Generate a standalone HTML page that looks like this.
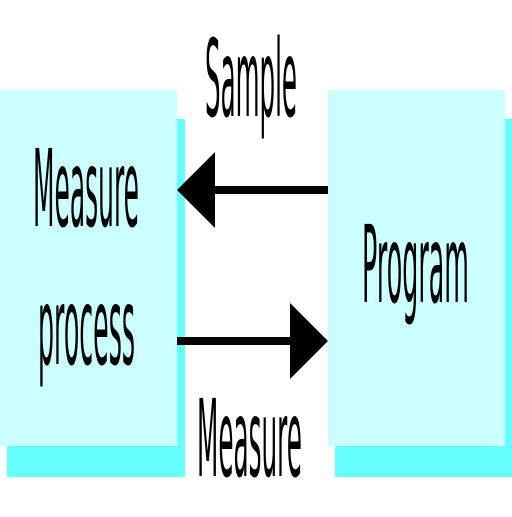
<!DOCTYPE html>
<html><head><style>html,body{margin:0;padding:0;background:#fff}</style></head><body>
<svg width="512" height="512" viewBox="0 0 512 512" xmlns="http://www.w3.org/2000/svg">
<rect x="7" y="119" width="178" height="358" fill="#66ffff"/>
<rect x="0" y="90" width="177" height="356" fill="#ccffff"/>
<rect x="335" y="119" width="177" height="358" fill="#66ffff"/>
<rect x="328" y="90" width="177" height="356" fill="#ccffff"/>
<g font-family="DejaVu Sans, Liberation Sans, sans-serif" font-size="107" fill="#000">
<text x="205" y="116" textLength="92" lengthAdjust="spacingAndGlyphs">Sample</text>
<text x="33" y="226" textLength="106" lengthAdjust="spacingAndGlyphs">Measure</text>
<text x="38" y="364" textLength="97" lengthAdjust="spacingAndGlyphs">process</text>
<text x="362" y="302" textLength="107" lengthAdjust="spacingAndGlyphs">Program</text>
<text x="197" y="476" textLength="105" lengthAdjust="spacingAndGlyphs">Measure</text>
</g>
<rect x="210" y="186" width="118" height="8" fill="#000"/>
<polygon points="177,190 215,152 215,228" fill="#000"/>
<rect x="177" y="337" width="118" height="8" fill="#000"/>
<polygon points="328,341 290,303 290,379" fill="#000"/>
</svg>
</body></html>
